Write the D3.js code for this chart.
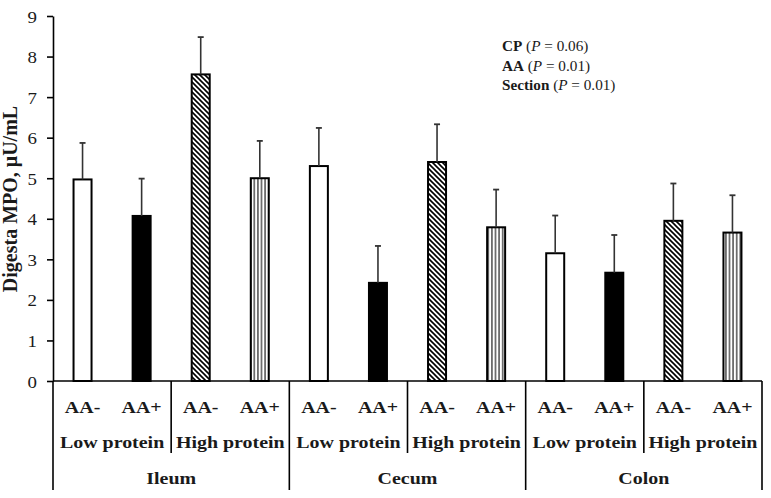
<!DOCTYPE html>
<html><head><meta charset="utf-8">
<script src="https://cdn.jsdelivr.net/npm/d3@7"></script>
<style>html,body{margin:0;padding:0;background:#fff}svg{display:block}text{font-family:"Liberation Serif","Times New Roman",serif}</style>
</head><body><svg id="c" width="771" height="498"></svg>
<script>
const sections = ["Ileum", "Cecum", "Colon"];
const proteins = ["Low protein", "High protein"];
const aaLevels = ["AA-", "AA+"];
const means = [4.97, 4.07, 7.56, 5.00, 5.30, 2.42, 5.40, 3.79, 3.15, 2.67, 3.95, 3.66];
const errs  = [0.90, 0.92, 0.92, 0.92, 0.94, 0.91, 0.93, 0.93, 0.93, 0.93, 0.92, 0.92];
const yTicks = [0, 1, 2, 3, 4, 5, 6, 7, 8, 9];
const stats = [["CP", "0.06"], ["AA", "0.01"], ["Section", "0.01"]];
const yLabel = "Digesta MPO, μU/mL";

const svg = d3.select("#c");
const X0 = 53, X1 = 762, Y0 = 381, Y1 = 16;
const idx = d3.range(means.length);
const x = d3.scaleBand().domain(idx).range([X0, X1]).padding(0);
const y = d3.scaleLinear().domain([0, 9]).range([Y0, Y1]);
const sx = 1.14;

const defs = svg.append("defs");
const pd = defs.append("pattern").attr("id", "diag").attr("patternUnits", "userSpaceOnUse").attr("width", 5).attr("height", 5);
pd.append("rect").attr("width", 5).attr("height", 5).attr("fill", "#fff");
pd.append("path").attr("d", "M-1,-1 L6,6 M-1,4 L1,6 M4,-1 L6,1").attr("stroke", "#000").attr("stroke-width", 1.6);
const pv = defs.append("pattern").attr("id", "vert").attr("patternUnits", "userSpaceOnUse").attr("width", 3.6).attr("height", 10).attr("x", 0.5);
pv.append("rect").attr("width", 3.6).attr("height", 10).attr("fill", "#fff");
pv.append("line").attr("x1", 1.8).attr("x2", 1.8).attr("y1", 0).attr("y2", 10).attr("stroke", "#222").attr("stroke-width", 1.2);

const fills = ["#fff", "#000", "url(#diag)", "url(#vert)"];
const bw = 18;

// y axis
const yAxis = d3.axisLeft(y).tickValues(yTicks).tickSize(6).tickSizeOuter(0).tickFormat(d3.format("d"));
const ga = svg.append("g").attr("transform", `translate(${X0},0)`).call(yAxis);
ga.select(".domain").attr("stroke", "#000").attr("stroke-width", 1.6);
ga.selectAll(".tick line").attr("stroke", "#000").attr("stroke-width", 1.6);
ga.selectAll(".tick text").remove();
ga.selectAll(".tick").append("text").text(d => d)
  .attr("transform", `translate(-16,6) scale(1.08,1)`).attr("text-anchor", "end")
  .attr("font-size", 17.5).attr("fill", "#1a1a1a");

// bars
svg.selectAll("rect.bar").data(idx).enter().append("rect").attr("class", "bar")
  .attr("x", i => x(i) + x.bandwidth() / 2 - bw / 2).attr("width", bw)
  .attr("y", i => y(means[i])).attr("height", i => y(0) - y(means[i]))
  .attr("fill", i => fills[i % 4]).attr("stroke", "#000").attr("stroke-width", 2);

// error bars
idx.forEach(i => {
  const cx = x(i) + x.bandwidth() / 2;
  svg.append("line").attr("x1", cx).attr("x2", cx).attr("y1", y(means[i])).attr("y2", y(means[i] + errs[i])).attr("stroke", "#333").attr("stroke-width", 1.6);
  svg.append("line").attr("x1", cx - 3).attr("x2", cx + 3).attr("y1", y(means[i] + errs[i])).attr("y2", y(means[i] + errs[i])).attr("stroke", "#333").attr("stroke-width", 1.8);
});

// x axis baseline
svg.append("line").attr("x1", X0).attr("x2", X1).attr("y1", Y0).attr("y2", Y0).attr("stroke", "#000").attr("stroke-width", 1.6);
// separators
for (let k = 0; k <= 6; k++) {
  const xx = x.range()[0] + k * 2 * x.bandwidth();
  const long = k % 2 === 0;
  svg.append("line").attr("x1", xx).attr("x2", xx).attr("y1", Y0).attr("y2", long ? 490 : 453).attr("stroke", "#000").attr("stroke-width", 1.6);
}

const lab = (t, cx, cy, fs) => svg.append("text").text(t).attr("text-anchor", "middle")
  .attr("transform", `translate(${cx},${cy}) scale(${sx},1)`).attr("font-size", fs).attr("font-weight", "bold").attr("fill", "#1a1a1a");

idx.forEach(i => lab(aaLevels[i % 2], x(i) + x.bandwidth() / 2, 413, 17.5));
for (let g = 0; g < 6; g++) lab(proteins[g % 2], X0 + (g + 0.5) * 2 * x.bandwidth(), 448, 17.5);
sections.forEach((s, j) => lab(s, X0 + (j + 0.5) * 4 * x.bandwidth(), 484, 17.5));

// y label
svg.append("text").text(yLabel).attr("text-anchor", "middle")
  .attr("transform", `translate(17,199) rotate(-90)`).attr("font-size", 20).attr("font-weight", "bold").attr("fill", "#1a1a1a");

// stats legend
stats.forEach((s, j) => {
  const t = svg.append("text").attr("transform", `translate(502,${51 + j * 19.5}) scale(1.05,1)`).attr("font-size", 14.5).attr("fill", "#1a1a1a");
  t.append("tspan").text(s[0]).attr("font-weight", "bold");
  t.append("tspan").text(" (");
  t.append("tspan").text("P").attr("font-style", "italic");
  t.append("tspan").text(" = " + s[1] + ")");
});
</script></body></html>
